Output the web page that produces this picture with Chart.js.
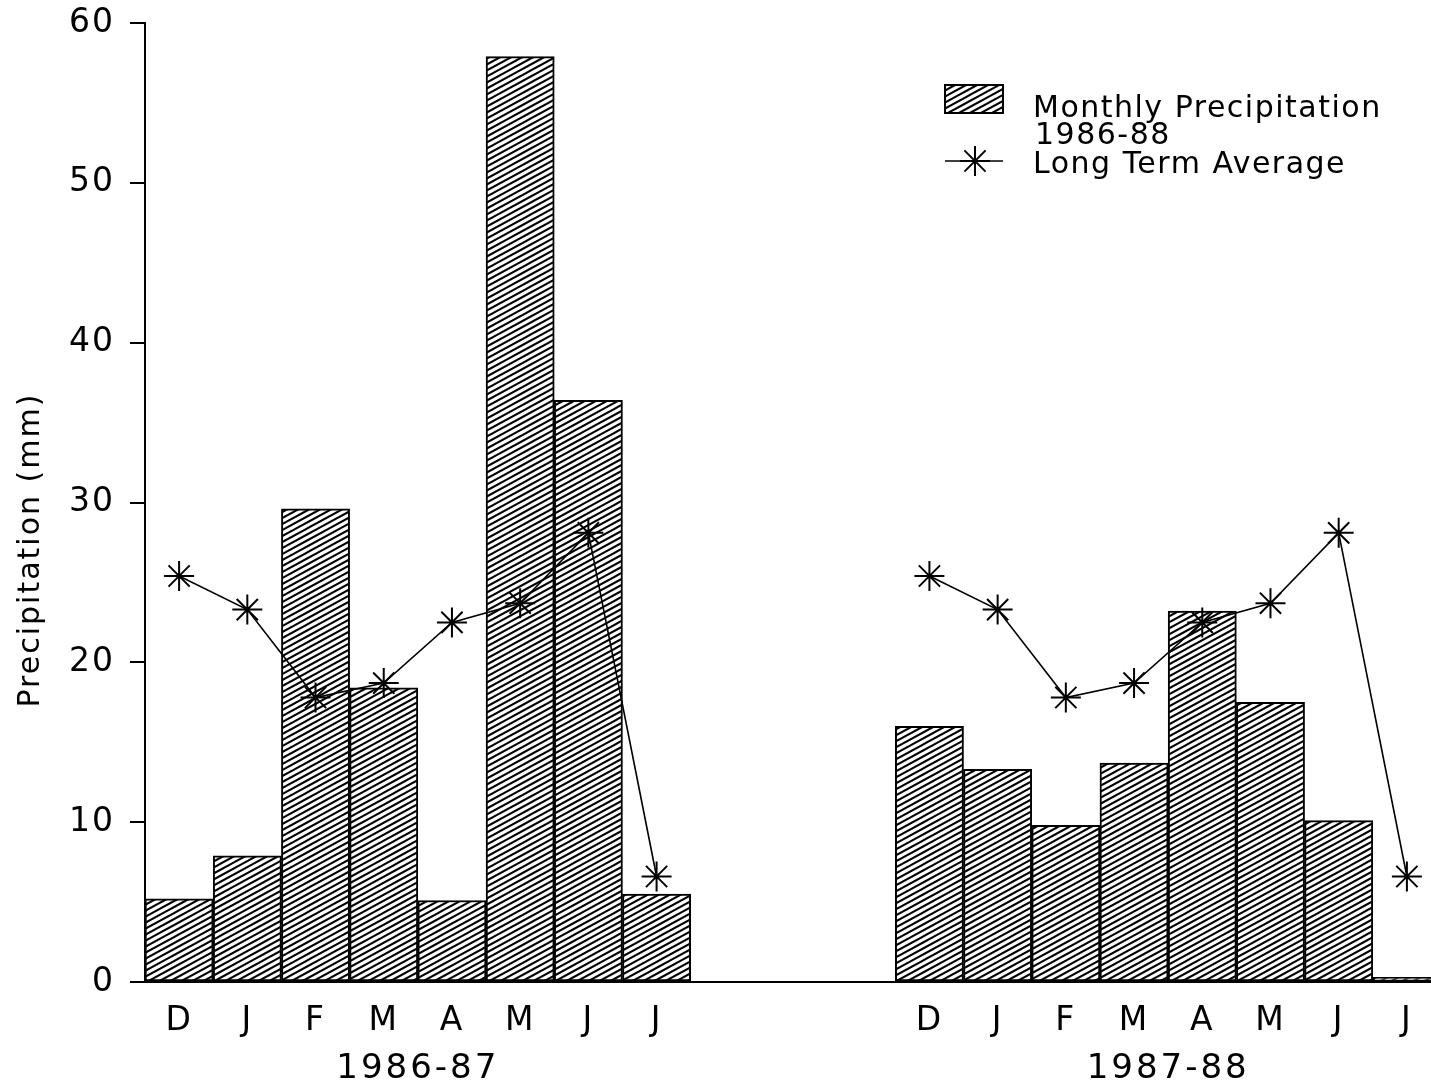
<!DOCTYPE html>
<html>
<head>
<meta charset="utf-8">
<title>Precipitation 1986-88</title>
<script src="https://cdn.jsdelivr.net/npm/chart.js@4.4.1/dist/chart.umd.min.js"></script>
<style>
    html, body { margin: 0; padding: 0; background: #fff; overflow: hidden; }
    #wrap { position: relative; width: 1441px; height: 1088px; }
    canvas { display: block; }
</style>
</head>
<body>
<div id="wrap"><canvas id="chart" width="1441" height="1088"></canvas></div>
<script>
// Datos
const months = ['D', 'J', 'F', 'M', 'A', 'M', 'J', 'J'];
const seasons = ['1986-87', '1987-88'];
const precip8687 = [5.2, 7.9, 29.6, 18.4, 5.1, 57.9, 36.4, 5.5];
const precip8788 = [16.0, 13.3, 9.8, 13.7, 23.2, 17.5, 10.1, 0.3];
const longTermAvg = [25.4, 23.3, 17.8, 18.7, 22.5, 23.7, 28.1, 6.6];
const gapSlots = 3;
const yMin = 0, yMax = 60, yStep = 10;
const yTitle = 'Precipitation (mm)';
const legendBarText = ['Monthly Precipitation', '1986-88'];
const legendLineText = 'Long Term Average';

const FONT = "'DejaVu Sans', sans-serif";

// Construir las series (hueco entre temporadas)
const gap = new Array(gapSlots).fill(null);
const labels = [...months, ...new Array(gapSlots).fill(''), ...months];
const barData = [...precip8687, ...gap, ...precip8788];
const lineData = [...longTermAvg, ...gap, ...longTermAvg];

/**
 * Trama de rayas diagonales para las barras
 */
function makeHatch() {
    const W = 44, H = 24, n = 4;
    const s = H / n;
    const c = document.createElement('canvas');
    c.width = W;
    c.height = H;
    const g = c.getContext('2d');
    g.fillStyle = '#fff';
    g.fillRect(0, 0, W, H);
    g.strokeStyle = '#000';
    g.lineWidth = 2;
    for (let k = -1; k <= 2 * n + 1; k++) {
        g.beginPath();
        g.moveTo(-2, k * s + 2 * H / W);
        g.lineTo(W + 2, k * s - H - 2 * H / W);
        g.stroke();
    }
    return document.createElement('canvas').getContext('2d').createPattern(c, 'repeat');
}

const hatch = makeHatch();

function drawStar(ctx, x, y, r) {
    ctx.beginPath();
    for (let i = 0; i < 4; i++) {
        const a = i * Math.PI / 4;
        ctx.moveTo(x - Math.cos(a) * r, y - Math.sin(a) * r);
        ctx.lineTo(x + Math.cos(a) * r, y + Math.sin(a) * r);
    }
    ctx.stroke();
}

// Espaciado de letras como en el original
const spacingPlugin = {
    id: 'spacing',
    beforeUpdate(chart) { chart.ctx.letterSpacing = '2px'; },
    beforeDraw(chart) { chart.ctx.letterSpacing = '2px'; }
};

// Título del eje Y, etiquetas de temporada y leyenda
const extrasPlugin = {
    id: 'extras',
    afterDraw(chart) {
        const ctx = chart.ctx;
        const x = chart.scales.x;
        ctx.save();
        ctx.fillStyle = '#000';
        ctx.strokeStyle = '#000';

        // Título eje Y
        ctx.save();
        ctx.translate(31, 550);
        ctx.rotate(-Math.PI / 2);
        ctx.font = `30px ${FONT}`;
        ctx.letterSpacing = '2px';
        ctx.textAlign = 'center';
        ctx.textBaseline = 'middle';
        ctx.fillText(yTitle, 0, 0);
        ctx.restore();

        // Temporadas
        ctx.font = `34px ${FONT}`;
        ctx.letterSpacing = '3px';
        ctx.textAlign = 'center';
        ctx.textBaseline = 'alphabetic';
        const n = months.length;
        const starts = [0, n + gapSlots];
        seasons.forEach((label, i) => {
            const cx = (x.getPixelForValue(starts[i]) + x.getPixelForValue(starts[i] + n - 1)) / 2;
            ctx.fillText(label, cx, 1078);
        });

        // Leyenda
        ctx.fillStyle = hatch;
        ctx.fillRect(945, 85, 58, 28);
        ctx.lineWidth = 2;
        ctx.strokeRect(945, 85, 58, 28);
        ctx.fillStyle = '#000';
        ctx.font = `30px ${FONT}`;
        ctx.letterSpacing = '1.5px';
        ctx.textAlign = 'left';
        ctx.fillText(legendBarText[0], 1033, 117);
        ctx.fillText(legendBarText[1], 1035, 144);
        ctx.fillText(legendLineText, 1033, 173);
        ctx.lineWidth = 1.6;
        ctx.beginPath();
        ctx.moveTo(945, 161);
        ctx.lineTo(1003, 161);
        ctx.stroke();
        ctx.lineWidth = 2;
        drawStar(ctx, 975, 161, 15);
        ctx.restore();
    }
};

const chart = new Chart(document.getElementById('chart'), {
    type: 'bar',
    data: {
        labels: labels,
        datasets: [
            {
                type: 'line',
                label: legendLineText,
                data: lineData,
                borderColor: '#000',
                borderWidth: 1.6,
                pointStyle: 'star',
                pointRadius: 15,
                pointBorderWidth: 2,
                pointBorderColor: '#000',
                pointBackgroundColor: '#000',
                spanGaps: false,
                order: 0
            },
            {
                type: 'bar',
                label: legendBarText.join(' '),
                data: barData,
                backgroundColor: hatch,
                borderColor: '#000',
                borderWidth: 2,
                borderSkipped: false,
                barPercentage: 1,
                categoryPercentage: 1,
                order: 1
            }
        ]
    },
    options: {
        responsive: false,
        animation: false,
        layout: { autoPadding: false, padding: { top: 23, right: 0, left: 0, bottom: 0 } },
        plugins: {
            legend: { display: false },
            tooltip: { enabled: false }
        },
        scales: {
            x: {
                grid: { display: false, drawTicks: false },
                border: { display: true, color: '#000', width: 2 },
                ticks: {
                    color: '#000',
                    font: { family: FONT, size: 33 },
                    padding: 20,
                    autoSkip: false,
                    maxRotation: 0
                },
                afterFit(scale) {
                    scale.height = 106;
                    scale.paddingLeft = 0;
                    scale.paddingRight = 0;
                }
            },
            y: {
                min: yMin,
                max: yMax,
                grid: { display: true, drawOnChartArea: false, drawTicks: true, tickLength: 15, color: '#000', lineWidth: 2 },
                border: { display: true, color: '#000', width: 2 },
                ticks: {
                    stepSize: yStep,
                    color: '#000',
                    font: { family: FONT, size: 33 },
                    padding: 15
                },
                afterFit(scale) {
                    scale.width = 145;
                    scale.paddingTop = 0;
                    scale.paddingBottom = 0;
                }
            }
        }
    },
    plugins: [spacingPlugin, extrasPlugin]
});
</script>
</body>
</html>
